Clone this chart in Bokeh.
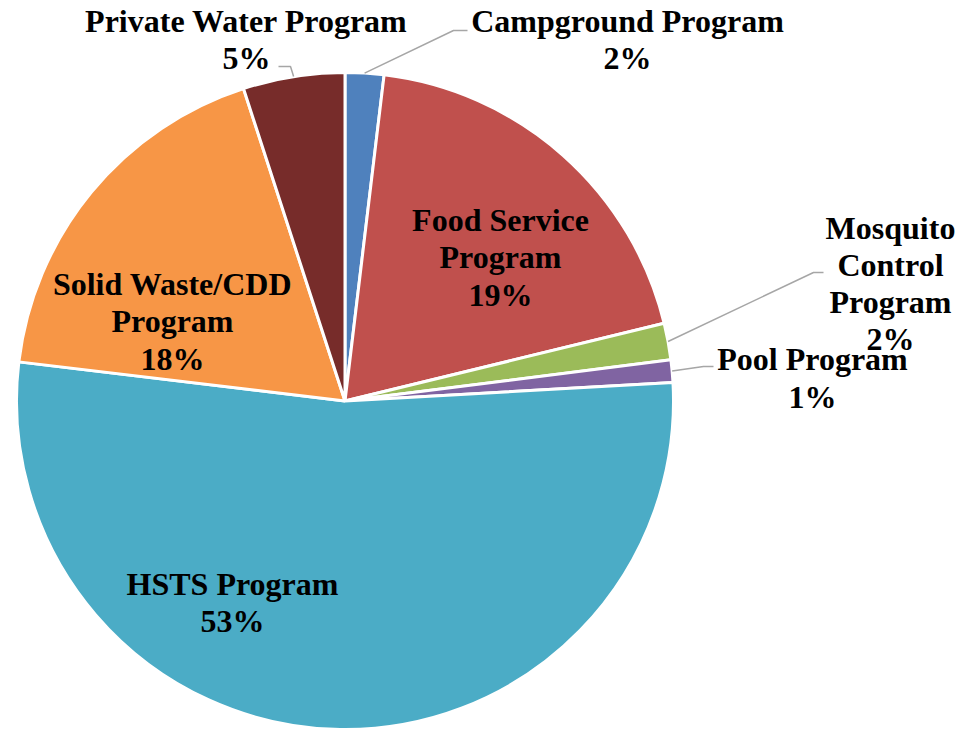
import math
from bokeh.plotting import figure
from bokeh.models import Range1d, ColumnDataSource
from bokeh.core.properties import value
from bokeh.embed import file_html
from bokeh.resources import INLINE

# Data (clockwise from 12 o'clock)
categories = ["Campground Program", "Food Service Program", "Mosquito Control Program",
              "Pool Program", "HSTS Program", "Solid Waste/CDD Program", "Private Water Program"]
shares = [1.9, 19.3, 1.8, 1.1, 52.8, 18.1, 5.0]
pct_labels = ["2%", "19%", "2%", "1%", "53%", "18%", "5%"]
label_text = ["Campground Program", "Food Service\nProgram", "Mosquito\nControl\nProgram",
              "Pool Program", "HSTS Program", "Solid Waste/CDD\nProgram", "Private Water Program"]
colors = ["#4F81BD", "#C0504D", "#9BBB59", "#8064A2", "#4BACC6", "#F79646", "#772C2A"]

# Layout (page pixel coordinates; y is negated page y)
CX, CY, R = 344.5, -400.5, 328.5
label_pos = [(627, -39), (500, -257), (890, -283), (812, -377.5), (232, -602), (172, -321), (246, -39)]
leader_kink = {0: [(453, -30), (467, -30)], 2: [(813, -272), (823, -272)],
               3: [(703, -366), (713, -366)], 6: [(290, -66), (278, -66)]}

total = sum(shares)
starts, ends, mids = [], [], []
cum = 0.0
for s in shares:
    c0 = cum / total
    cum += s
    c1 = cum / total
    starts.append(math.pi / 2 - 2 * math.pi * c1)
    ends.append(math.pi / 2 - 2 * math.pi * c0)
    mids.append(math.pi / 2 - math.pi * (c0 + c1))

p = figure(width=965, height=731, x_range=Range1d(0, 965), y_range=Range1d(-731, 0),
           output_backend="svg", toolbar_location=None, min_border=0)
p.axis.visible = False
p.grid.visible = False
p.outline_line_color = None
p.background_fill_color = "white"
p.border_fill_color = "white"

src = ColumnDataSource(dict(start=starts, end=ends, color=colors, name=categories))
p.wedge(x=CX, y=CY, radius=R, start_angle="start", end_angle="end",
        fill_color="color", line_color="white", line_width=3, source=src)

# Leader lines
for i, pts in leader_kink.items():
    sx = CX + R * math.cos(mids[i])
    sy = CY + R * math.sin(mids[i])
    xs = [sx] + [q[0] for q in pts]
    ys = [sy] + [q[1] for q in pts]
    p.line(xs, ys, line_color="#A6A6A6", line_width=1.5)

texts = [f"{t}\n{pc}" for t, pc in zip(label_text, pct_labels)]
lsrc = ColumnDataSource(dict(x=[q[0] for q in label_pos], y=[q[1] for q in label_pos], t=texts))
p.text(x="x", y="y", text="t", source=lsrc, text_font=value("Liberation Serif"),
       text_font_style="bold", text_font_size="32px", text_align="center",
       text_baseline="middle", text_color="black", text_line_height=1.03)

open("out.html", "w").write(file_html(p, INLINE))
